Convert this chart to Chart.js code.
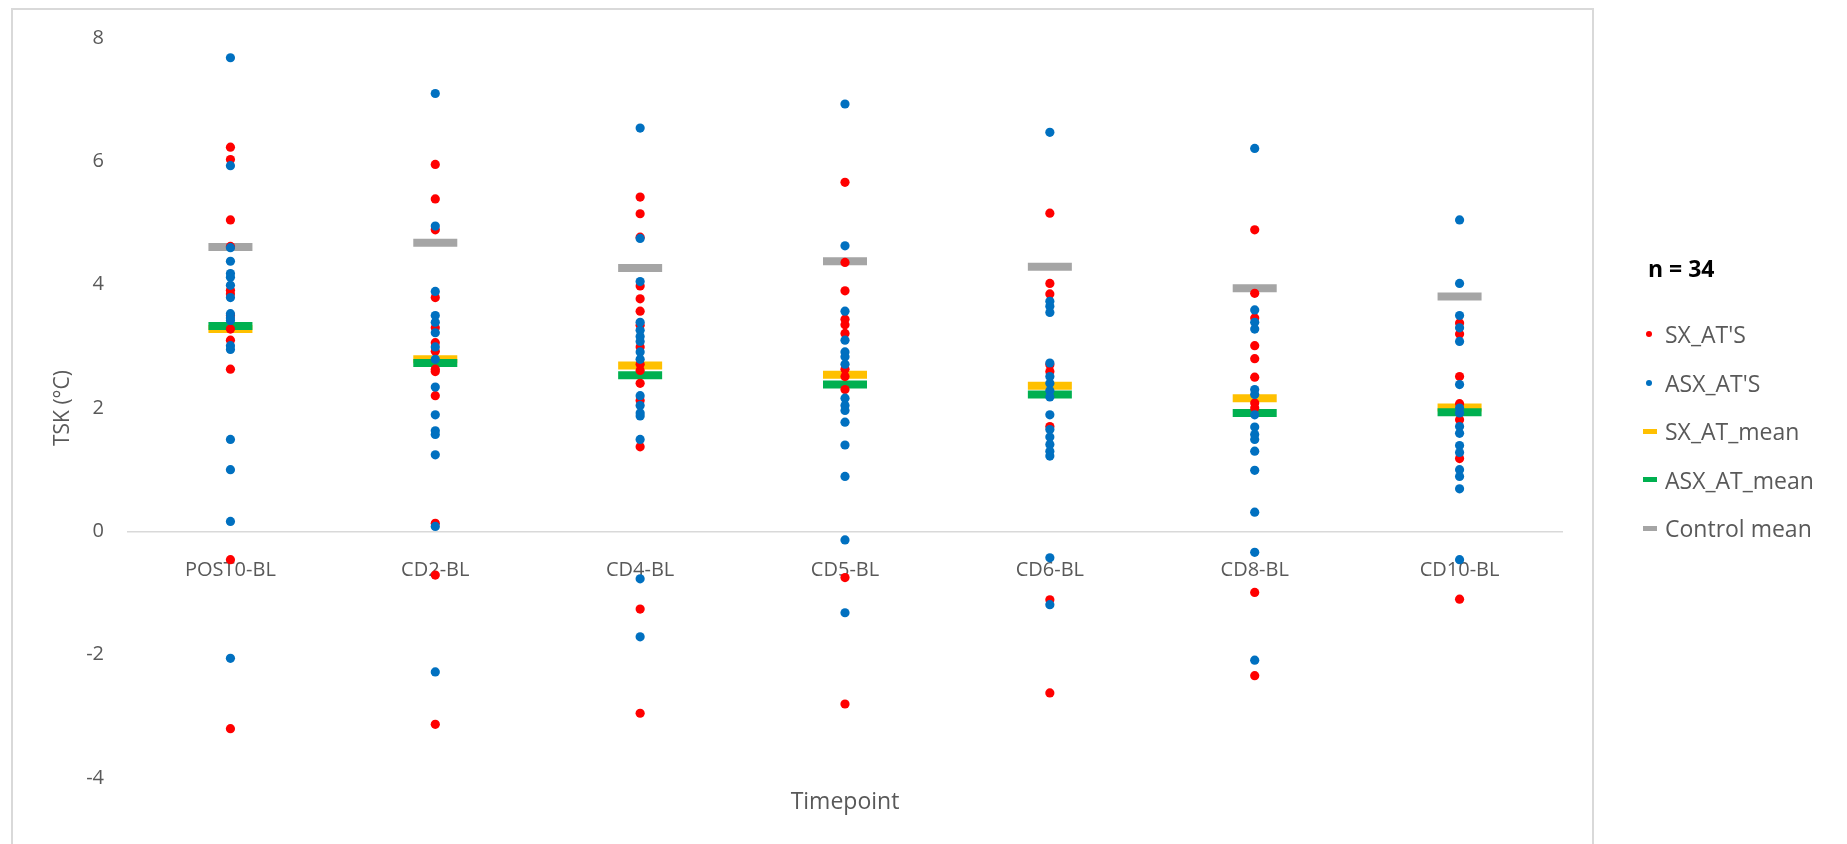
<!DOCTYPE html>
<html lang="en">
<head>
<meta charset="UTF-8">
<title>TSK by timepoint</title>
<script src="https://cdn.jsdelivr.net/npm/chart.js"></script>
<style>
  body { margin: 0; background: #fff; font-family: "Open Sans", sans-serif; }
  #wrap { position: relative; width: 1847px; height: 844px; overflow: hidden; }
  #frame { position: absolute; left: 11px; top: 8px; width: 1579px; height: 900px; border: 2px solid #d9d9d9; }
  #chart { position: absolute; left: 0; top: 0; }
  #legend { position: absolute; left: 0; top: 0; width: 1847px; height: 844px; }
  .n { position: absolute; left: 1648px; top: 252px; font-size: 23px; font-weight: bold; color: #000; white-space: nowrap; }
  .item { position: absolute; left: 1665px; font-size: 23px; color: #595959; line-height: 30px; white-space: nowrap; }
  .mark { position: absolute; }
</style>
</head>
<body>
<div id="wrap">
  <div id="frame"></div>
  <canvas id="chart" width="1847" height="844"></canvas>
  <div id="legend"></div>
</div>
<script>
  const timepoints = ['POST0-BL', 'CD2-BL', 'CD4-BL', 'CD5-BL', 'CD6-BL', 'CD8-BL', 'CD10-BL'];

  // individual symptomatic athletes (red)
  const sxValues = [
    [6.23, 6.03, 5.05, 4.62, 3.91, 3.85, 3.50, 3.28, 3.10, 2.63, -0.46, -3.20],
    [5.95, 5.39, 4.89, 3.79, 3.30, 3.06, 2.92, 2.63, 2.59, 2.20, 0.13, -0.71, -3.13],
    [5.42, 5.15, 4.77, 3.98, 3.77, 3.57, 3.34, 2.99, 2.71, 2.61, 2.40, 2.12, 1.37, -1.26, -2.95],
    [5.66, 4.36, 3.90, 3.44, 3.35, 3.21, 2.63, 2.51, 2.30, -0.75, -2.80],
    [5.16, 4.02, 3.85, 2.70, 2.59, 1.70, -1.11, -2.62],
    [4.89, 3.86, 3.46, 3.01, 2.80, 2.50, 2.08, 2.00, -0.99, -2.34],
    [3.38, 3.20, 2.51, 2.07, 1.81, 1.18, -1.10]
  ];

  // individual asymptomatic athletes (blue)
  const asxValues = [
    [7.68, 5.93, 4.60, 4.38, 4.18, 4.12, 3.99, 3.79, 3.53, 3.46, 3.42, 3.01, 2.95, 1.49, 1.00, 0.16, -2.06],
    [7.10, 4.95, 3.89, 3.50, 3.39, 3.22, 2.99, 2.79, 2.34, 1.89, 1.63, 1.57, 1.24, 0.08, -2.28],
    [6.54, 4.75, 4.05, 3.39, 3.26, 3.16, 3.08, 2.91, 2.79, 2.20, 2.04, 1.92, 1.87, 1.49, -0.77, -1.71],
    [6.93, 4.63, 3.57, 3.10, 2.91, 2.83, 2.71, 2.16, 2.04, 1.96, 1.77, 1.40, 0.89, -0.14, -1.32],
    [6.47, 3.73, 3.65, 3.55, 2.73, 2.51, 2.40, 2.28, 2.18, 1.89, 1.65, 1.53, 1.41, 1.30, 1.22, -0.43, -1.19],
    [6.21, 3.59, 3.39, 3.28, 2.30, 2.22, 1.89, 1.69, 1.57, 1.49, 1.30, 0.99, 0.31, -0.34, -2.09],
    [5.05, 4.02, 3.50, 3.30, 3.08, 2.38, 2.00, 1.92, 1.70, 1.59, 1.39, 1.28, 1.00, 0.89, 0.69, -0.46]
  ];

  const sxMean = [3.28, 2.79, 2.69, 2.54, 2.36, 2.16, 2.01];
  const asxMean = [3.33, 2.73, 2.53, 2.38, 2.22, 1.92, 1.93];
  const controlMean = [4.61, 4.68, 4.27, 4.38, 4.29, 3.94, 3.81];

  const yTicks = [-4, -2, 0, 2, 4, 6, 8];

  const RED = '#ff0000', BLUE = '#0070c0', YELLOW = '#ffc000', GREEN = '#00b050', GRAY = '#a5a5a5';
  const TXT = '#595959';
  const FONT = '"Open Sans", sans-serif';

  function points(groups) {
    const out = [];
    groups.forEach((vals, i) => vals.forEach(v => out.push({ x: timepoints[i], y: v })));
    return out;
  }

  function dotSet(label, groups, color, order) {
    return {
      label, order, data: points(groups), showLine: false,
      pointRadius: 4.6, pointHoverRadius: 4.6, pointBorderWidth: 0,
      pointBackgroundColor: color, borderColor: color, backgroundColor: color
    };
  }

  function meanSet(label, values, color, order) {
    return {
      label, order, data: values.map((v, i) => ({ x: timepoints[i], y: v })), showLine: false,
      pointStyle: 'line', pointRadius: 22, pointHoverRadius: 22,
      pointBorderWidth: 8, pointHoverBorderWidth: 8,
      pointBorderColor: color, pointBackgroundColor: color, borderColor: color
    };
  }

  // lower order is drawn on top
  const datasets = [
    dotSet("SX_AT'S", sxValues, RED, 2),
    dotSet("ASX_AT'S", asxValues, BLUE, 1),
    meanSet('SX_AT_mean', sxMean, YELLOW, 4),
    meanSet('ASX_AT_mean', asxMean, GREEN, 3),
    meanSet('Control mean', controlMean, GRAY, 5)
  ];

  new Chart(document.getElementById('chart'), {
    type: 'line',
    data: { labels: timepoints, datasets },
    options: {
      responsive: false,
      animation: false,
      events: [],
      layout: { padding: { left: 12, right: 285, top: 38, bottom: 0 } },
      plugins: { legend: { display: false }, tooltip: { enabled: false } },
      scales: {
        x: {
          type: 'category', offset: true, position: { y: 0 },
          grid: { display: false },
          border: { color: '#d9d9d9', width: 1.5 },
          ticks: { padding: 19, color: TXT, font: { family: FONT, size: 20 }, maxRotation: 0 }
        },
        x2: {
          type: 'category', labels: timepoints, position: 'bottom', offset: true,
          grid: { display: false, drawTicks: false }, border: { display: false },
          ticks: { display: false },
          title: { display: true, text: 'Timepoint', color: TXT, font: { family: FONT, size: 23 }, padding: { top: 0, bottom: 28 } },
          afterFit(s) { s.height = 66; }
        },
        y: {
          min: -4, max: 8,
          afterBuildTicks(s) { s.ticks = yTicks.map(v => ({ value: v })); },
          grid: { display: false, drawTicks: false },
          border: { display: false },
          ticks: { padding: 24, color: TXT, font: { family: FONT, size: 20 } },
          title: { display: true, text: 'TSK (°C)', color: TXT, font: { family: FONT, size: 21 }, padding: { top: 38, bottom: 0 } },
          afterFit(s) { s.width = 116; }
        }
      }
    }
  });

  // legend outside the chart frame
  const legendItems = [
    { text: "SX_AT'S", color: RED, kind: 'dot' },
    { text: "ASX_AT'S", color: BLUE, kind: 'dot' },
    { text: 'SX_AT_mean', color: YELLOW, kind: 'dash' },
    { text: 'ASX_AT_mean', color: GREEN, kind: 'dash' },
    { text: 'Control mean', color: GRAY, kind: 'dash' }
  ];
  const legend = document.getElementById('legend');
  legend.innerHTML = '<div class="n">n = 34</div>' + legendItems.map((it, i) => {
    const cy = 334 + i * 48.5;
    const mark = it.kind === 'dot'
      ? `<div class="mark" style="left:1646px;top:${cy - 3}px;width:6px;height:6px;border-radius:50%;background:${it.color}"></div>`
      : `<div class="mark" style="left:1643px;top:${cy - 2.5}px;width:14px;height:5px;background:${it.color}"></div>`;
    return mark + `<div class="item" style="top:${cy - 15}px">${it.text}</div>`;
  }).join('');
</script>
</body>
</html>
